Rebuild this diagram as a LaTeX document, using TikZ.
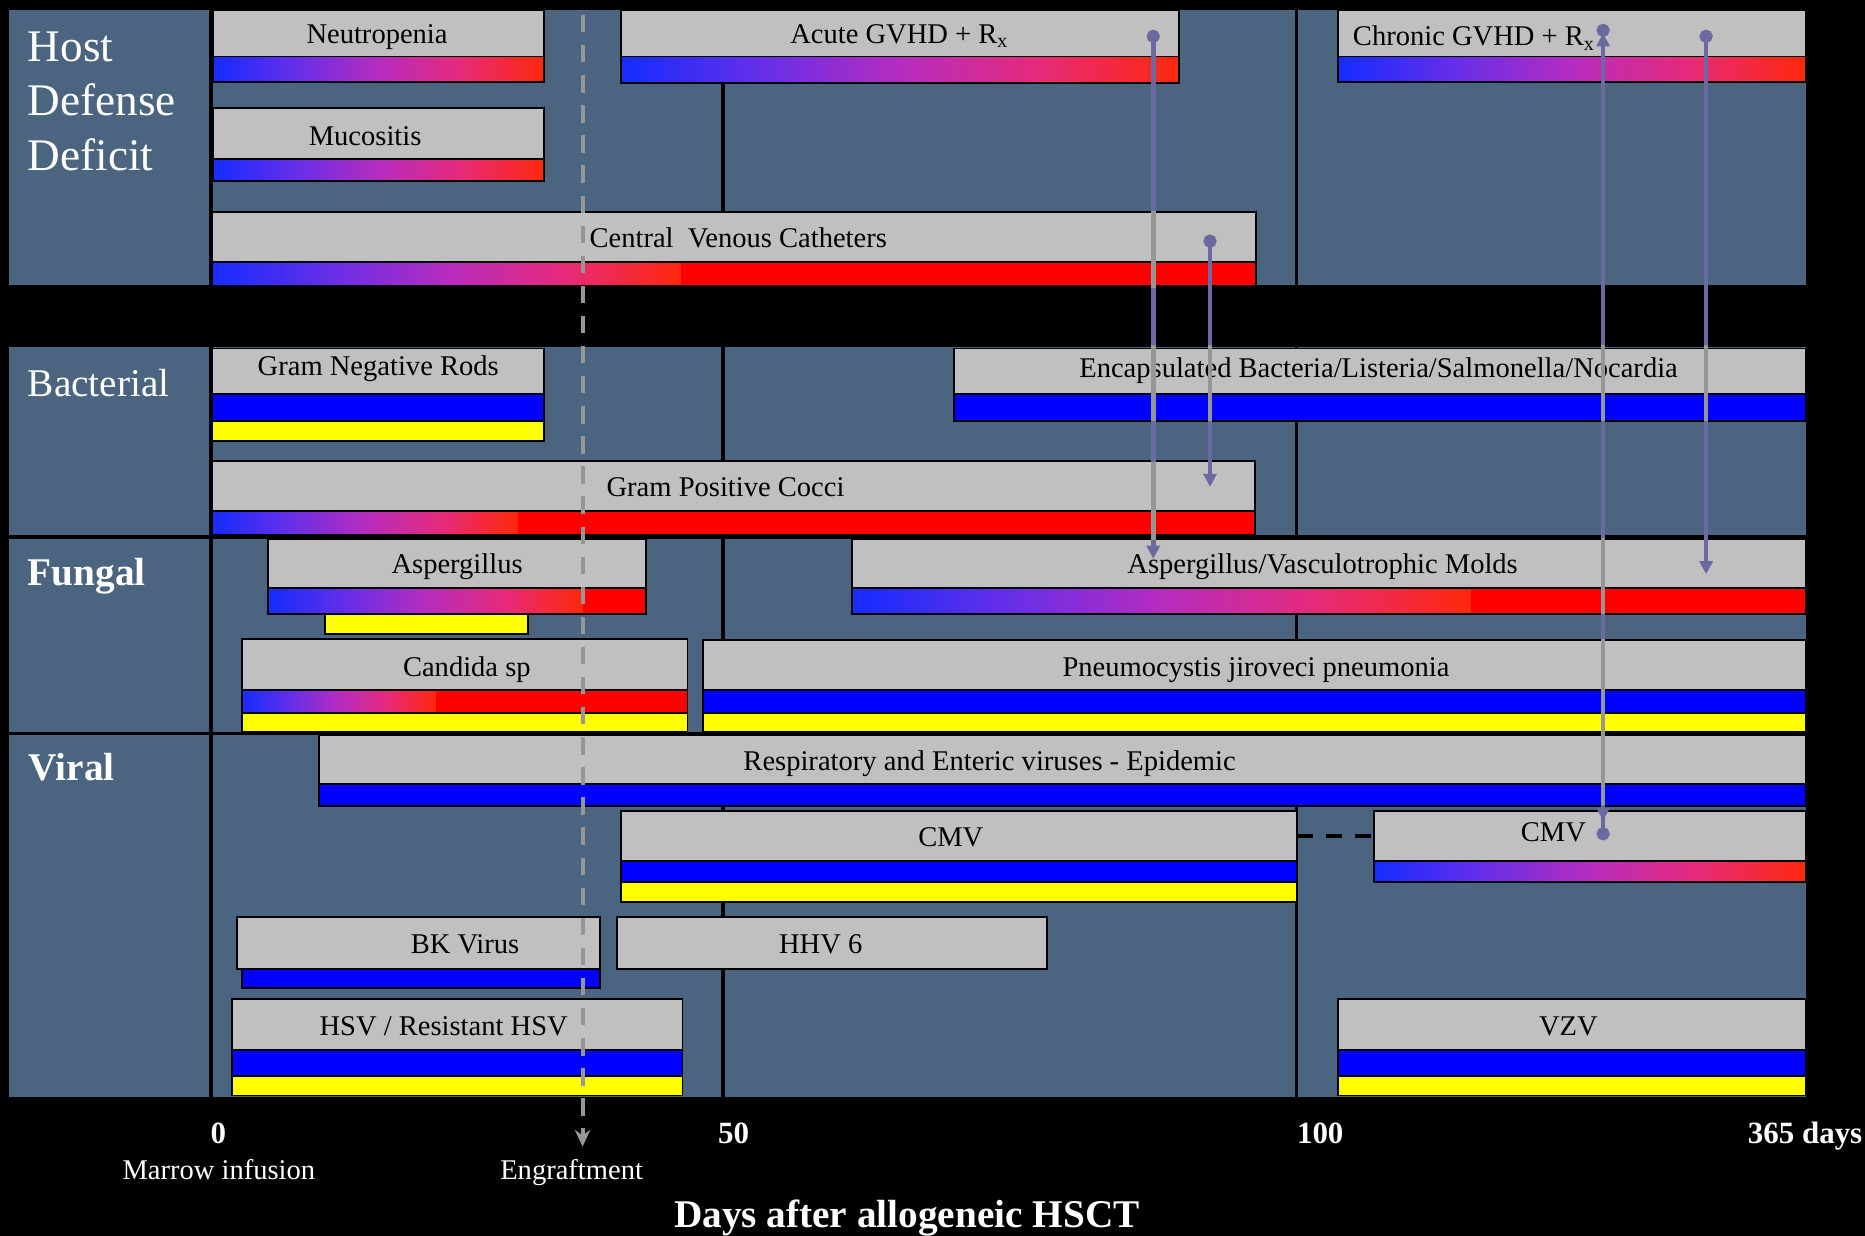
\documentclass[tikz,border=0pt]{standalone}
\usepackage{fontspec}
\setmainfont{Liberation Serif}
\usetikzlibrary{arrows.meta}
\definecolor{slate}{RGB}{75,101,128}
\definecolor{boxgray}{RGB}{192,192,192}
\definecolor{pur}{RGB}{106,106,160}
\definecolor{lgray}{RGB}{150,150,150}
\definecolor{bblue}{RGB}{0,0,255}
\definecolor{byel}{RGB}{255,255,0}
\definecolor{bred}{RGB}{255,0,0}
\pgfdeclarehorizontalshading{rainbowbar}{100bp}{rgb(0bp)=(0.078,0.176,1); rgb(25bp)=(0.078,0.176,1); rgb(37.5bp)=(0.40,0.18,0.91); rgb(50bp)=(0.71,0.175,0.75); rgb(62.5bp)=(0.90,0.165,0.48); rgb(75bp)=(1,0.157,0.04); rgb(100bp)=(1,0.157,0.04)}
% box node: name x1 y1 x2 y2
\newcommand\gbox[5]{\node[gbox,minimum width={#4-#2},minimum height={#5-#3}] (#1) at ({(#2+#4)/2},{(#3+#5)/2}) {};}
% solid bar: colour x1 y1 x2 y2
\newcommand\sbar[5]{\filldraw[barline,fill=#1] (#2,#3) rectangle (#4,#5);}
% gradient bar: x1 y1 xsplit x2 y2 (red after xsplit)
\newcommand\gbar[5]{\shade[shading=rainbowbar] (#1,#2) rectangle (#3,#5);
  \fill[bred] (#3,#2) rectangle (#4,#5);
  \draw[barline] (#1,#2) rectangle (#4,#5);}
\begin{document}
\begin{tikzpicture}[x=1pt,y=-1pt,
  dayline/.style={draw=black,line width=3pt},
  gbox/.style={draw=black,line width=1.6pt,fill=boxgray,inner sep=0pt,outer sep=0pt},
  barline/.style={draw=black,line width=1.6pt},
  lbl/.style={anchor=base,inner sep=0pt,text=black,font=\fontsize{24}{28}\selectfont},
  catlbl/.style={anchor=base west,inner sep=0pt,text=white,font=\fontsize{33}{40}\selectfont},
  catbig/.style={anchor=base west,inner sep=0pt,text=white,font=\fontsize{38}{45}\selectfont},
  axl/.style={anchor=base,inner sep=0pt,text=white,font=\bfseries\fontsize{26}{30}\selectfont},
  sublbl/.style={anchor=base,inner sep=0pt,text=white,font=\fontsize{24}{28}\selectfont},
  ttl/.style={anchor=base,inner sep=0pt,text=white,font=\bfseries\fontsize{33}{40}\selectfont},
  conn/.style={draw=pur,line width=4pt,{Circle[length=11pt,width=11pt]}-{Triangle[length=11pt,width=11pt]}},
  grayseg/.style={draw=lgray,line width=4pt},
  engline/.style={draw=lgray,line width=3.5pt,dash pattern=on 14.6pt off 10.7pt,-{Stealth[length=14pt,width=13pt]}},
  cmvdash/.style={draw=black,line width=3.4pt,dash pattern=on 13.5pt off 11pt}
]
\useasboundingbox (0,0) rectangle (1568,1039);
\fill[black] (0,0) rectangle (1568,1039);
% panels
\fill[slate] (7.5,8) rectangle (175.5,240);
\fill[slate] (179,8) rectangle (1518,240);
\fill[slate] (7.5,292) rectangle (175.5,450);
\fill[slate] (179,292) rectangle (1518,450);
\fill[slate] (7.5,453) rectangle (175.5,615);
\fill[slate] (179,453) rectangle (1518,615);
\fill[slate] (7.5,618) rectangle (175.5,922);
\fill[slate] (179,618) rectangle (1518,922);
% day lines
\draw[dayline] (608,8) -- (608,922);
\draw[dayline] (1090,8) -- (1090,922);

% ---------- Host defense deficit ----------
\gbar{179}{47.5}{457}{457}{69}
\gbox{neut}{179}{8.5}{457}{47.5}
\node[lbl] (neutT) at (317,36.4) {Neutropenia};
\gbar{179}{134}{457}{457}{152}
\gbox{muco}{179}{91}{457}{134}
\node[lbl] (mucoT) at (307,122) {Mucositis};
\gbar{522}{47.5}{991}{991}{69.5}
\gbox{agvhd}{522}{8.5}{991}{47.5}
\node[lbl] (agvhdT) at (756,36.4) {Acute GVHD + R\textsubscript{x}};
\gbar{178}{220}{572.6}{1056}{240.5}
\gbox{cvc}{178}{178}{1056}{220}
\node[lbl] (cvcT) at (620.7,208) {Central\ \ Venous Catheters};
\gbar{1125}{47.5}{1518}{1518}{69}
\gbox{cgvhd}{1125}{8.5}{1518}{47.5}
\node[lbl,anchor=base west] (cgvhdT) at (1137.3,38.4) {Chronic GVHD + R\textsubscript{x}};

% ---------- Bacterial ----------
\sbar{bblue}{178.5}{331}{457}{354}
\sbar{byel}{178.5}{354}{457}{371}
\gbox{gnr}{178.5}{293}{457}{331}
\node[lbl] (gnrT) at (318,315.3) {Gram Negative Rods};
\sbar{bblue}{802}{331}{1518}{354}
\gbox{enc}{802}{293}{1518}{331}
\node[lbl] (encT) at (1159,317.5) {Encapsulated Bacteria/Listeria/Salmonella/Nocardia};
\gbar{178}{429.7}{435.4}{1055}{450}
\gbox{gpc}{178}{387.6}{1055}{429.7}
\node[lbl] (gpcT) at (610,417.6) {Gram Positive Cocci};

% ---------- Fungal ----------
\sbar{byel}{273}{516}{444}{533}
\gbar{225}{494.5}{490}{543.4}{516}
\gbox{asp}{225}{453}{543.4}{494.5}
\node[lbl] (aspT) at (384.3,481.9) {Aspergillus};
\gbar{716}{494.5}{1237}{1518}{516}
\gbox{aspv}{716}{453}{1518}{494.5}
\node[lbl] (aspvT) at (1112,482) {Aspergillus/Vasculotrophic Molds};
\sbar{byel}{203.5}{599.6}{578}{615}
\gbar{203.5}{580}{366.7}{578}{599.6}
\gbox{cand}{203.5}{537.5}{578}{580}
\node[lbl] (candT) at (392.5,569) {Candida sp};
\sbar{bblue}{591}{580}{1518}{599.3}
\sbar{byel}{591}{599.3}{1518}{615}
\gbox{pcp}{591}{538}{1518}{580}
\node[lbl] (pcpT) at (1056,569) {Pneumocystis jiroveci pneumonia};

% ---------- Viral ----------
\sbar{bblue}{268}{659}{1518}{677.7}
\gbox{resp}{268}{618}{1518}{659}
\node[lbl] (respT) at (832,647.4) {Respiratory and Enteric viruses - Epidemic};
\sbar{bblue}{521.8}{724}{1090}{741.6}
\sbar{byel}{521.8}{741.6}{1090}{758}
\gbox{cmvL}{521.8}{681.6}{1090}{724}
\node[lbl] (cmvLT) at (799.4,711.9) {CMV};
\gbar{1154.8}{724}{1518}{1518}{741.6}
\gbox{cmvR}{1154.8}{681.6}{1518}{724}
\node[lbl] (cmvRT) at (1306,707.6) {CMV};
\draw[cmvdash] (cmvL.east) -- (cmvR.west);
\sbar{bblue}{203.7}{814.4}{504.7}{830.4}
\gbox{bk}{199.5}{771}{504.7}{814.4}
\node[lbl] (bkT) at (391,801.5) {BK Virus};
\gbox{hhv}{519}{771}{880.5}{814.4}
\node[lbl] (hhvT) at (690,801.5) {HHV 6};
\sbar{bblue}{194.7}{882.8}{573.8}{904.7}
\sbar{byel}{194.7}{904.7}{573.8}{921}
\gbox{hsv}{194.7}{840}{573.8}{882.8}
\node[lbl] (hsvT) at (373,870.2) {HSV / Resistant HSV};
\sbar{bblue}{1124.6}{883}{1518}{904.7}
\sbar{byel}{1124.6}{904.7}{1518}{921}
\gbox{vzv}{1124.6}{840}{1518}{883}
\node[lbl] (vzvT) at (1318.6,870.2) {VZV};

% ---------- category labels ----------
\node[catbig] (hostA) at (23.3,52) {Host};
\node[catbig] (hostB) at (23.3,97) {Defense};
\node[catbig] (hostC) at (23.3,143) {Deficit};
\node[catlbl] (bact) at (23.3,333.5) {Bacterial};
\node[catlbl] (fung) at (23.3,492) {\bfseries Fungal};
\node[catlbl] (vir) at (24,656.4) {\bfseries Viral};

% ---------- connectors ----------
\coordinate (acuteDot) at (969.6,25);
\coordinate (acuteTip) at (969.6,469.8);
\coordinate (cvcDot) at (1017.3,197.2);
\coordinate (cvcTip) at (1017.3,409.3);
\coordinate (chrDot) at (1347.8,20);
\coordinate (chrTip) at (1347.8,28);
\coordinate (cmvDot) at (1347.8,706.5);
\coordinate (cmvTip) at (1347.8,690);
\coordinate (chr2Dot) at (1434.4,25);
\coordinate (chr2Tip) at (1434.4,482.7);
\draw[conn] (acuteDot) -- (acuteTip);
\draw[conn] (cvcDot) -- (cvcTip);
\draw[conn] (chrDot) -- (cmvTip);
\draw[conn] (cmvDot) -- (chrTip);
\draw[conn] (chr2Dot) -- (chr2Tip);
% grey parts where the connectors cross other boxes
\draw[grayseg] (969.6,177) -- (969.6,242);
\draw[grayseg] (969.6,290) -- (969.6,354);
\draw[grayseg] (969.6,388) -- (969.6,454);
\draw[grayseg] (1017.3,290) -- (1017.3,354);
\draw[grayseg] (1347.8,290) -- (1347.8,354);
\draw[grayseg] (1347.8,452) -- (1347.8,516);
\draw[grayseg] (1347.8,537.4) -- (1347.8,677);
\draw[grayseg] (1434.4,290) -- (1434.4,354);

% ---------- axis ----------
\node[axl] (d0) at (183.5,961) {0};
\node[axl] (d50) at (616.7,961) {50};
\node[axl] (d100) at (1110,961) {100};
\node[axl,anchor=base west] (d365) at (1469.4,961) {365 days};
\node[sublbl] (marrow) at (184,991.5) {Marrow infusion};
\node[sublbl] (engr) at (480.6,991.5) {Engraftment};
\node[ttl] (ttl) at (762.4,1031.6) {Days after allogeneic HSCT};
\coordinate (engTop) at (489.8,12.6);
\coordinate (engTip) at (489.8,964);
\draw[engline] (engTop) -- (engTip);
\end{tikzpicture}
\end{document}
